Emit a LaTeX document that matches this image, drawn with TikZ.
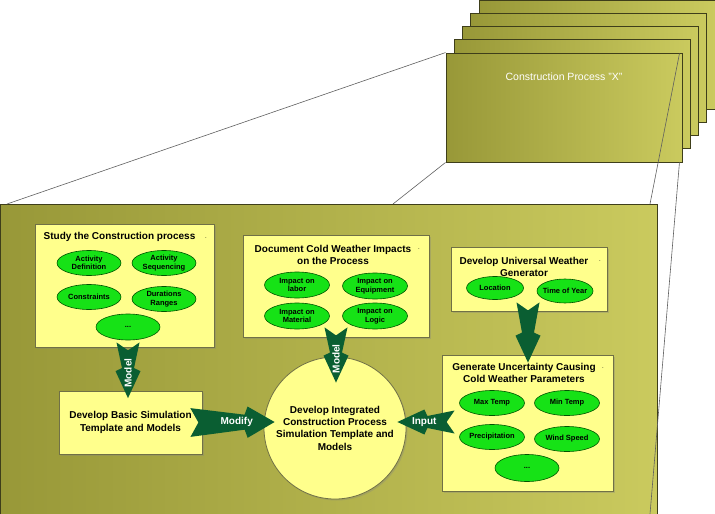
\documentclass[tikz,border=0pt]{standalone}
\usepackage{fontspec}
\setmainfont{Liberation Sans}
\usetikzlibrary{calc,shapes.geometric,shadows}

\definecolor{panelDark}{RGB}{152,152,56}
\definecolor{panelLight}{RGB}{202,202,94}
\definecolor{edgeOlive}{RGB}{62,62,26}
\definecolor{noteYellow}{RGB}{255,255,140}
\definecolor{noteEdge}{RGB}{112,112,70}
\definecolor{itemGreen}{RGB}{22,226,22}
\definecolor{itemEdge}{RGB}{0,85,0}
\definecolor{arrowGreen}{RGB}{10,94,50}
\definecolor{zoomGray}{RGB}{95,95,95}

\tikzset{
    card/.style={draw=edgeOlive, line width=0.9pt, left color=panelDark, right color=panelLight},
    panel/.style={draw=edgeOlive, line width=1pt, left color=panelDark, right color=panelLight},
    note/.style={draw=noteEdge, fill=noteYellow, line width=0.8pt, inner sep=0pt,
        drop shadow={shadow xshift=1.5pt, shadow yshift=-1.5pt, opacity=0.3}},
    item/.style={ellipse, draw=itemEdge, fill=itemGreen, line width=0.6pt,
        inner xsep=-8pt, inner ysep=-4pt, minimum width=64pt, minimum height=25pt,
        align=center, font=\fontsize{7.5}{8.5}\selectfont\bfseries},
    title/.style={align=center, inner sep=0pt, font=\fontsize{10}{12.3}\selectfont\bfseries},
    dotmark/.style={inner sep=0pt, font=\fontsize{6}{6}\selectfont},
    arrowlabel/.style={text=white, inner sep=0pt, font=\fontsize{10}{12}\selectfont\bfseries},
    zoomline/.style={draw=zoomGray, line width=0.6pt},
}

% #1 width factor, #2 tail, #3 tip
\newcommand{\fatarrow}[3][1]{%
    \coordinate (fa-j) at ($(#3)!30pt!(#2)$);
    \coordinate (fa-b) at ($(#3)!27pt!(#2)$);
    \fill[arrowGreen] ($(#2)!#1*11.5pt!90:(#3)$) -- ($(fa-j)!#1*6pt!90:(#3)$)
        -- ($(fa-b)!#1*12.5pt!90:(#3)$) -- (#3) -- ($(fa-b)!#1*12.5pt!-90:(#3)$)
        -- ($(fa-j)!#1*6pt!-90:(#3)$) -- ($(#2)!#1*11.5pt!-90:(#3)$)
        -- ($(#2)!8pt!(#3)$) -- cycle;
}

\begin{document}
\begin{tikzpicture}[x=1pt, y=-1pt]
    \useasboundingbox (0,0) rectangle (715,514);

    \foreach \i in {4,3,2,1}
        \path[card] ({446+8.25*\i},{53-13.25*\i}) rectangle +(236,109);
    \node[card, minimum width=236pt, minimum height=109pt] (front) at (564,107.5) {};
    \node[text=white, font=\fontsize{10.5}{12}\selectfont] (front-t) at (564,77) {Construction Process "X"};

    \path[panel] (0.5,204) rectangle (657,530);

    \coordinate (zA) at (7,204);
    \coordinate (zB) at (393,204);
    \coordinate (zC) at (650,204);
    \coordinate (zD) at (650,514);
    \draw[zoomline] (front.north west) -- (zA);
    \draw[zoomline] (front.south west) -- (zB);
    \draw[zoomline] ($(front.north east)+(-3,1)$) -- (zC);
    \draw[zoomline] ($(front.south east)+(-3,0)$) -- (zD);

    \node[note, minimum width=179pt, minimum height=123pt] (study) at (124.5,285.5) {};
    \node[title] (study-t) at (119.5,237) {Study the Construction process};
    \node[dotmark] at (206,238) {.};
    \node[item] (def) at (89,263) {Activity\\Definition};
    \node[item] (seq) at (164,263) {Activity\\Sequencing};
    \node[item] (con) at (89,297) {Constraints};
    \node[item] (dur) at (164,299) {Durations\\Ranges};
    \node[item, minimum height=26pt] (more1) at (128,327) {...};

    \node[note, minimum width=186pt, minimum height=102pt] (impacts) at (336,286) {};
    \node[title] (impacts-t) at (333,255) {Document Cold Weather Impacts\\on the Process};
    \node[dotmark] at (419,249) {.};
    \node[item, minimum width=65pt, minimum height=26pt] (lab) at (297,285) {Impact on\\labor};
    \node[item, minimum width=65pt, minimum height=26pt] (equ) at (375,286) {Impact on\\Equipment};
    \node[item, minimum width=65pt, minimum height=26pt] (mat) at (297,316) {Impact on\\Material};
    \node[item, minimum width=65pt, minimum height=26pt] (log) at (375,316) {Impact on\\Logic};

    \node[note, minimum width=156pt, minimum height=64pt] (generator) at (529,279) {};
    \node[title] (generator-t) at (524,267) {Develop Universal Weather\\Generator};
    \node[dotmark] at (600,261) {.};
    \node[item, minimum width=57pt, minimum height=23pt] (loc) at (495,288) {Location};
    \node[item, minimum width=56pt, minimum height=24pt] (year) at (565,291) {Time of Year};

    \node[note, minimum width=171pt, minimum height=136pt] (params) at (527.5,423) {};
    \node[title] (params-t) at (524,373) {Generate Uncertainty Causing\\Cold Weather Parameters};
    \node[dotmark] at (603,368) {.};
    \node[item, minimum width=65pt] (tmax) at (492,403) {Max Temp};
    \node[item, minimum width=65pt] (tmin) at (567,403) {Min Temp};
    \node[item, minimum width=65pt] (prec) at (492,437) {Precipitation};
    \node[item, minimum width=65pt] (wind) at (567,439) {Wind Speed};
    \node[item, minimum height=27pt] (more2) at (527,468) {...};

    \node[note, minimum width=143pt, minimum height=63pt, title] (basic) at (130.5,422.5) {Develop Basic Simulation\\Template and Models};
    \node[note, circle, minimum size=142pt, title] (integrated) at (335,428) {Develop Integrated\\Construction Process\\Simulation Template and\\Models};

    \coordinate (m1s) at ($(study.south)+(3.5,-5)$);
    \coordinate (m1e) at ($(basic.north)+(-2.5,7.5)$);
    \coordinate (m2s) at ($(impacts.south)+(0,-10)$);
    \coordinate (m2e) at ($(integrated.north)+(1,26)$);
    \coordinate (mods) at ($(basic.east)+(-12,0)$);
    \coordinate (mode) at ($(integrated.west)+(11,-6)$);
    \coordinate (ins) at ($(params.west)+(13,-1)$);
    \coordinate (ine) at ($(integrated.east)+(-9,-6)$);
    \coordinate (ws) at ($(generator.south)+(-1,-9)$);
    \coordinate (we) at ($(params.north)+(0.5,8)$);

    \fatarrow{m1s}{m1e}
    \fatarrow{m2s}{m2e}
    \fatarrow[1.25]{mods}{mode}
    \fatarrow{ins}{ine}
    \fatarrow{ws}{we}

    \node[arrowlabel, rotate=90] at ($(m1s)!0.55!(m1e)$) {Model};
    \node[arrowlabel, rotate=90] at ($(m2s)!0.57!(m2e)$) {Model};
    \node[arrowlabel] at ($(mods)!0.55!(mode)$) {Modify};
    \node[arrowlabel] at ($(ins)!0.53!(ine)$) {Input};
\end{tikzpicture}
\end{document}
